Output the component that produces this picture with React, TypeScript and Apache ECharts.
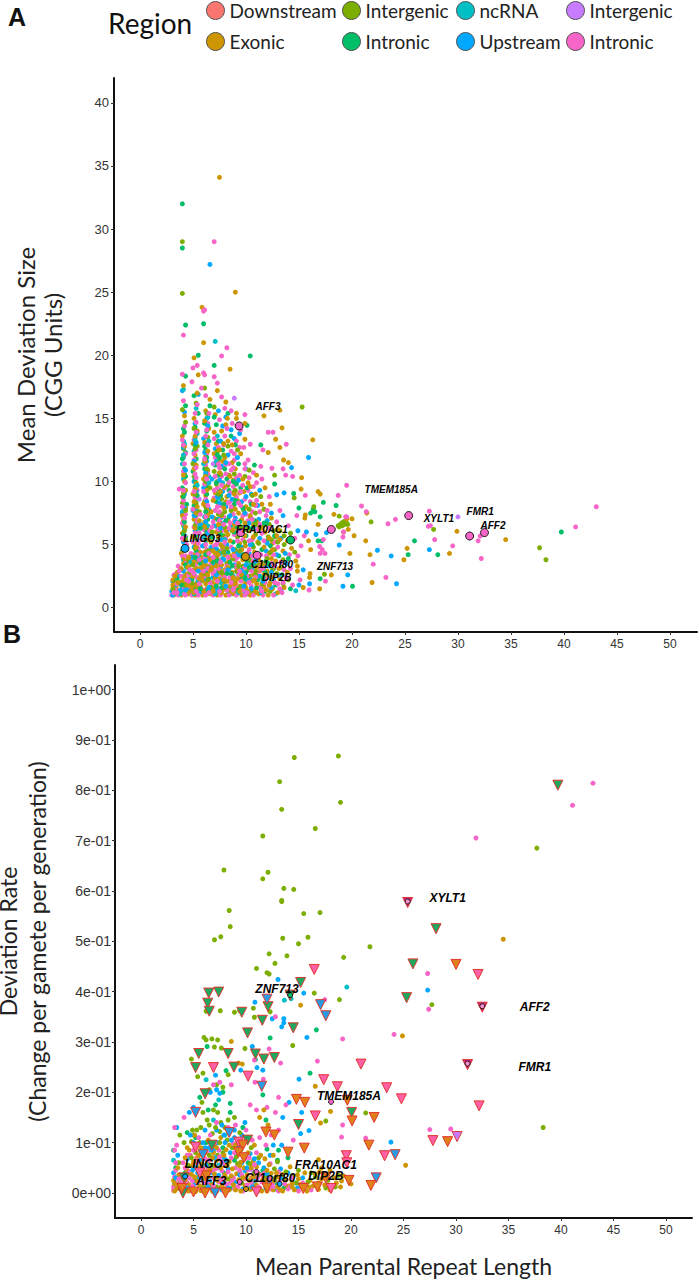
import React, { useEffect, useRef } from "react";
import * as echarts from "echarts";

const COLORS = { downstream: "#F8766D", exonic: "#CD9600", olive: "#7CAE00", green: "#00BE67", teal: "#00BFC4", blue: "#00A9FF", purple: "#C77CFF", pink: "#F765C8" };
const xTicks = [0, 5, 10, 15, 20, 25, 30, 35, 40, 45, 50];
const yTicksA = [0, 5, 10, 15, 20, 25, 30, 35, 40];
const yTicksB = [0, 0.1, 0.2, 0.3, 0.4, 0.5, 0.6, 0.7, 0.8, 0.9, 1];
const yTickLabelsB = ["0e+00", "1e-01", "2e-01", "3e-01", "4e-01", "5e-01", "6e-01", "7e-01", "8e-01", "9e-01", "1e+00"];

// ---------- Panel A: mean deviation size ----------
const aDownstream = [[3.6,1.3],[5.6,2.4],[7.4,3.5],[9.1,1.8],[6.2,6.1],[11.3,2.9]];
const aExonic = [[7.5,34.1],[9,25],[5.85,23.8],[6,21],[5.1,19.8],[8.5,18.9],[5.5,18.45],[13.2,15.65],[11.7,15.2],[9.1,15.4],[8.25,15],[9.1,15],[9.9,14.6],[13.4,14.25],[16.3,13.3],[12.8,13.35],[9.9,13.35],[13.2,12.7],[12.1,12.3],[13.55,11.7],[14,11.5],[15.25,10.3],[15.2,9.4],[16.8,9.2],[17,9],[18.3,7.4],[15.6,7.35],[15.55,7.1],[20,7.05],[16.8,6.6],[19.2,6],[20.2,5.7],[19.65,6.2],[19.5,7.05],[19.8,4.3],[21.4,7.5],[21.3,5.3],[21.7,4.2],[21.9,2],[25.2,4.7],[24.9,3.8],[29.9,6.05],[29.2,4.3],[34.5,5.4],[18.05,2.6],[16.95,1.5],[15.4,1.6],[16.05,2.7],[16,2.4],[14.85,3.3],[14.85,2.9],[16.1,4.6],[15.9,5.3],
[3.2,1],[3.9,1],[4.6,1.1],[5.2,1],[5.9,1],[6.6,1.1],[7.3,1],[8.1,1],[8.8,1.1],[9.6,1],[10.4,1],[11.2,1.1],[12.1,1],[13,1.2],
[3.4,1.6],[4.2,1.5],[5,1.4],[5.7,1.7],[6.3,1.5],[7,1.6],[7.8,1.4],[8.5,1.7],[9.2,1.5],[10,1.6],[10.9,1.4],[11.7,1.7],[12.5,1.5],[13.6,1.6],
[3.1,2.2],[4,2.1],[4.7,2.3],[5.4,2],[6,2.2],[6.8,2],[7.5,2.3],[8.3,2.1],[9,2],[9.8,2.3],[10.6,2.1],[11.4,2.4],[12.3,2],[13.2,2.3],
[3.5,2.8],[4.3,2.7],[5.1,3],[5.8,2.7],[6.5,2.9],[7.2,2.7],[8,3],[8.7,2.8],[9.5,2.7],[10.2,3],[11,2.8],[12,2.9],[13.1,3.1],
[4.1,3.5],[4.8,3.4],[5.5,3.6],[6.2,3.4],[7,3.6],[7.7,3.4],[8.4,3.7],[9.3,3.5],[10.5,3.6],[11.6,3.5],[12.8,3.7],
[3.9,4.3],[5,4.2],[5.7,4.4],[6.4,4.1],[7.1,4.3],[8,4.2],[8.9,4.4],[9.95,4.9],[10.8,4.4],[12.2,4.3],[13.5,4.5],
[4.2,5],[5.2,5.1],[6,4.9],[6.7,5.2],[7.6,5],[8.5,5.3],[9.4,5.1],[11.1,5.2],[12.5,5.1],[13.9,5.3],
[4,5.9],[5.3,6],[6.2,5.8],[7.2,6],[8.1,6.1],[9,5.9],[10.3,6.1],[11.8,6],[13,6.2],
[4.1,6.9],[5.1,7],[6.1,6.8],[7,7.1],[8.3,6.9],[9.6,7],[11,6.8],[12.4,7.1],
[4.3,7.9],[5.4,8],[6.3,7.8],[7.4,8.1],[8.6,7.9],[10,8],[11.5,8.2],
[4,8.8],[5,9],[6.2,8.9],[7.1,9.1],[8.2,8.8],[9.4,9.1],[10.9,9],
[4.2,10],[5.3,9.9],[6,10.2],[7.3,10],[8.8,10.1],[10.2,9.9],
[5.1,11],[6.4,10.9],[7.6,11.1],[9,11],
[4.1,12],[5.2,12.1],[6.2,12],[7,12.2],[8,11.9],[9.5,12.2],
[5,13],[6.1,13.1],[7.2,13],[8.3,13.2],[4,13.6],[5.4,14],[6.5,14.2],[7.7,14],[4.2,15.2],[5.1,15],[6.2,15.6],[7.1,15.3],[6.6,16.5],[8.1,16.3],[5.4,17],[7.3,17.2],[4.1,17.6]];
const aOlive = [[4,29],[4,24.9],[15.3,15.9],[12.7,10.5],[14.55,8.7],[16.4,8],[18.8,7.25],[18.7,6.5],[18.9,6.6],[19,6.7],[19.1,6.5],[19.2,6.8],[19.3,6.6],[19.4,6.9],[19.5,6.7],[19.6,6.6],[18.8,6.4],[21.8,6.8],[27.7,6.2],[37.7,4.75],[38.3,3.8],[17.4,2.65],
[3.5,1.1],[4.8,1.3],[6.1,1.2],[7.6,1.2],[9,1.3],[10.7,1.2],[12.3,1.3],[4.4,2],[5.8,2.1],[7.1,2.4],[8.7,2.2],[10.3,2.5],[12,2.6],[14,2.2],
[3.8,3],[5.3,3.2],[6.6,3.3],[8.2,3.5],[9.7,3.3],[11.2,3.4],[13.4,3.2],[4.1,4],[5.6,4.4],[7.4,4.5],[9,4.6],[10.7,4.8],[12.7,4.6],[14.6,4.4],
[4.3,5.4],[5.1,5.6],[6.4,5.5],[7.9,5.7],[9.2,5.6],[10.9,5.8],[12.1,5.6],[13.2,6.1],[12.8,5.6],[13.6,5.7],[11.6,6.4],[12.2,6.6],[4.1,6.5],[6,6.5],[7.6,6.7],[9.3,6.6],[10.4,7.2],
[5.2,7.5],[6.4,7.4],[8,7.6],[9.8,7.7],[11.7,7.8],[4,8.3],[6.1,8.4],[7.7,8.6],[9.2,8.5],[10.6,8.9],[5.3,9.4],[6.6,9.5],[8.3,9.7],[4.2,10.6],[5.1,10.4],[7,10.8],[8.4,10.5],[6.2,11.6],[7.4,11.7],[4.1,12.6],[5.4,12.8],[6.4,13.5],[4,15.7],[5.3,16.2],[7,15.9],[6.1,17.4]];
const aGreen = [[4,32],[4,28.5],[6,22.5],[4.3,22.4],[5.5,20],[10.4,19.95],[7,19.2],[4.3,18.35],[10.1,14.45],[8.3,15.4],[11.4,12.9],[12.7,9.8],[14.5,9.05],[17.3,8.35],[18.5,8.1],[16.35,7.8],[15,7.9],[17,7.2],[16.5,7.6],[16.1,7.5],[25.9,5.3],[25.3,4.2],[28.1,4.2],[39.75,6],[20.05,1.7],[16.8,5.3],[17.15,5.3],[17,2.3],
[3.4,1.2],[4.5,1.1],[5.5,1.3],[6.9,1.1],[8.4,1.2],[10.2,1.1],[11.8,1.3],[14.2,1.5],[3.7,2],[5.2,2.5],[6.5,2.3],[7.9,2],[9.4,2.4],[11.1,2.2],[13.4,2.6],[4.4,3.2],[6,3.1],[7.5,3.1],[9.1,3.2],[10.8,3.4],[12.6,3.1],[4,4.5],[5.4,3.9],[6.9,4.7],[8.3,4.4],[9.7,4.2],[11.5,4.6],[13.1,4.1],
[4.3,5.6],[5.2,5.5],[6.2,5.3],[7.4,5.4],[8.8,5.2],[10,5.7],[12,5.3],[4.1,7.2],[5.3,6.7],[6.4,7],[7.8,6.3],[9.1,6.4],[10.6,6.3],[4.4,8.2],[5.1,8.1],[6.1,8.2],[7.2,8.4],[8.9,8.2],[4,9.5],[5.2,9.6],[6.3,9.6],[7.5,9.3],[9.5,9.5],[4.2,11],[5,10.8],[6.1,11],[7.1,11.3],[8.2,10.2],[4.3,12.3],[5.3,11.8],[6.2,12.5],[7.8,12.5],[5.2,13.5],[6.3,14],[7.2,14.5],[4.1,14.2],[8.6,13.6],[5.5,15.4],[4.3,16],[6.6,16],[5.1,16.8]];
const aTeal = [[7.1,21.1],[4.1,17.3],[5.3,15.8],[6.4,15.1],[14.7,1.35],[3.3,1.1],[4.9,1.2],[6.7,1.3],[8.6,1.1],[10.6,1.3],[12.8,1.1],[4.2,2.4],[5.9,2.6],[7.3,2.7],[9.2,2.8],[11.5,3],[4.1,3.8],[6.3,4],[7.8,3.9],[9.5,4.1],[4.3,5.2],[5.3,6.2],[6.1,6.6],[7.3,6.4],[8.6,6.5],[4,7.6],[5.2,8.4],[6.2,9.2],[7.5,7.5],[4.1,10.2],[6.5,10.4],[7.8,9.9],[4.2,13],[5.1,12.4],[6.4,12.9],[5.4,13.8],[4,11.4],[7.3,13.6]];
const aBlue = [[6.6,27.2],[15.9,11.9],[14.3,11.1],[13.6,9.1],[12.9,8.95],[17.6,5.95],[18.8,4.97],[19.6,2.6],[19.15,1.7],[16,1.9],[15.4,3],[22.4,4.55],[23.7,4.1],[24.2,1.9],[27.3,4.6],
[3,1.3],[3.1,2.1],[4.5,1.5],[5.6,1.1],[7,1.2],[8.3,1.6],[9.9,1.2],[11.4,1.5],[13.3,1.4],[15,1.8],[3.7,2.5],[5.3,1.9],[6.9,2.4],[8.8,2.5],[10.4,2.3],[12.2,2.4],[4.6,3.1],[6.1,2.9],[7.6,3.2],[9.6,3],[11.7,3.2],[13.8,3.5],[4.4,4],[5.9,3.8],[7.3,4.1],[8.7,4],[10.3,4.3],[11.9,4.5],[5.1,4.8],[6.7,4.8],[8.2,5],[9.6,4.8],[11.3,5.5],[13.3,5.5],[14.9,6.1],[15.7,6],[16.6,5.8],[4.2,6.2],[5.5,6.3],[7,6.5],[8.3,6.2],[9.9,6.5],[11.2,7],[12.4,7.5],[13.5,7.3],[4,7.4],[5.3,7.7],[6.5,7.8],[8.1,8],[9.6,8.4],[10.5,9],[11.3,9.3],[4.2,9],[6,9.5],[7.8,9.2],[5.1,10],[6.8,10.2],[9,9.9],[10,11],[4.1,11.9],[5.2,11.3],[6.3,11.6],[8.3,12.1],[4.1,13.2],[6,13.4],[7.1,12.6],[8.9,13.4],[9.4,13.8],[8.6,14.1],[4.2,15.5],[5.2,14.6],[6.3,15],[7.4,15.6],[8.1,15.1],[5.5,16.9],[4,17.2]];
const aPurple = [[30,7.2],[8.9,16.6],[6.9,11.4],[5.6,8.6],[7.9,4.9]];
const aPink = [[7,29],[6.1,23.6],[6,23.5],[4.1,21.6],[8.2,20.6],[7.7,19.95],[5.4,19.2],[5,19],[4,18.5],[6,18.6],[6.1,18.45],[7.3,17.8],[9.9,15.3],[12.1,13.9],[12.55,13.9],[10.4,12.95],[13.8,12.95],[11.6,12.5],[12.45,11.05],[13.5,11],[13.75,10.5],[14.4,10.4],[15.6,8.9],[18.7,8.9],[19.5,9.7],[20.9,8.06],[21.35,7.6],[19.4,7.2],[19.5,7.2],[23.4,6.65],[24.1,7],[27.3,7.65],[27.2,6.45],[27.4,6.5],[32.1,5.68],[31.9,5.3],[27.8,5.4],[29.5,4.9],[32.2,3.9],[41.1,6.4],[43.05,8],[22,3.45],[23.2,2.4],[19.15,5.6],[19.2,6],[17.3,5.4],[16.95,4.85],[17.45,4.3],[17,4.3],[17.2,4.6],[17.5,2.1],[15.95,1.4],[15.1,2.2],
[3,1],[3.6,1],[4.3,1],[4.9,1],[5.5,1],[6.2,1],[6.9,1],[7.6,1],[8.4,1],[9.1,1],[9.9,1],[10.7,1],[11.6,1],[12.6,1],
[3.3,1.4],[4,1.6],[4.7,1.7],[5.3,1.6],[6,1.4],[6.7,1.7],[7.4,1.5],[8.2,1.4],[8.9,1.7],[9.7,1.4],[10.5,1.7],[11.3,1.6],[12.2,1.7],[13.2,1.5],[14.4,1.8],
[3.2,2.6],[3.9,2.5],[4.6,2.6],[5.3,2.4],[6.1,2.5],[6.9,2.7],[7.7,2.6],[8.5,2.4],[9.3,2.6],[10.1,2.5],[11,2.7],[11.9,2.3],[12.8,2.6],[13.8,2.4],[3.6,3.3],[4.4,3.6],[5.2,3.4],[5.9,3.3],[6.7,3.5],[7.4,3.8],[8.2,3.3],[9,3.8],[9.9,3.2],[10.7,3.7],[11.3,3.2],[12.4,3.5],[13.6,3],
[4,4.1],[4.8,4.3],[5.5,4.7],[6.3,4.6],[7,4.9],[7.8,4.6],[8.6,4.8],[9.4,4.5],[10.3,4.6],[11.9,4.1],[13,4.8],[14.1,4.2],[15.2,4.9],
[4.2,5.7],[5,5.2],[5.8,5.4],[6.5,5.7],[7.3,5.2],[8.1,5.5],[8.9,5.8],[9.7,5.4],[10.6,5.4],[11.5,5.9],[12.7,5.2],[14.6,5.5],[15.5,5.7],
[4,6.7],[5.1,6.4],[6,6.2],[6.9,6.8],[7.7,6.1],[8.5,6.7],[9.3,6.1],[10.2,6.9],[11.1,6.2],[12.9,6.8],[14,6.5],[4.3,7.4],[5.3,7.2],[6.3,7.4],[7.1,7.7],[7.9,7.2],[8.8,7.4],[9.7,7.3],[10.6,7.6],[11.9,7.3],[13.2,7.7],[14.8,7.3],
[4.1,8.5],[5.2,8.7],[6.2,8.6],[7,8.7],[7.6,8.1],[8.5,8.4],[9.1,8.8],[9.9,8.6],[11,8.5],[12.2,8.8],[3.7,9.4],[4.3,9.9],[5.4,9.3],[6.1,9.8],[7.3,9.5],[8,9.5],[8.8,9.6],[9.7,9.7],[10.7,9.6],[11.5,10.2],[4.1,10.8],[5.2,10.6],[6.4,10.6],[7.7,10.4],[8.6,10.9],[9.4,10.5],[10.7,10.7],[11.4,11.2],[5.1,11.7],[6.2,11.3],[7.1,11.9],[8,11.3],[8.9,11.7],[9.9,11.4],[4.3,12.2],[5.3,12.5],[6.3,12.2],[7.4,12.7],[8.6,12.4],[4,13.3],[5.1,13.3],[6.2,13.6],[7,13.4],[8,13.6],[9.1,13.2],[4.2,14.4],[5.3,14.7],[6.4,14.6],[7.5,14.9],[8.7,14.6],[4.1,16.4],[5.4,16.1],[6.2,16.8],[7.7,16.7],[4.9,17.9],[5.8,17.4],[7,18.3]];
// second and third overlapping layers of the dense cloud
const aGreen2 = [[3.2,1.3],[4.1,1.2],[5,1.6],[6.4,1.4],[7.7,1.6],[9.3,1.4],[11,1.6],[12.8,1.8],[3.5,2.3],[4.9,2.2],[6.2,2.8],[7.4,2.9],[8.6,2.7],[10,2.8],[11.8,2.8],[4.3,3.4],[5.7,3.5],[6.9,3.6],[8.5,3.6],[10.1,3.7],[11.9,3.7],[4.2,4.6],[5.3,4.5],[6.5,4.5],[7.8,4.8],[9.3,4.9],[10.6,5],[12.3,4.9],[4.1,5.8],[5.3,5.8],[6.3,6],[7.6,5.8],[8.9,6],[10.2,6.3],[11.7,6.7],[4.2,6.8],[5.2,7.3],[6.2,7.6],[7.3,7],[8.4,7.2],[9.7,7.9],[4.1,8.8],[5.4,8.9],[6.3,9],[7.6,8.9],[8.4,9.3],[4.3,10.4],[5.2,10.2],[6.2,10.5],[7.4,10.5],[4,11.8],[5.1,11.5],[6.3,11.9],[7.5,11.9],[5.2,12.9],[6.1,12.8],[7.4,13.2],[4.2,13.9],[5.2,14.3],[6.1,14.6],[7,15.1]];
const aOlive2 = [[3.1,1.5],[4.2,1.8],[5.4,1.5],[6.7,1.6],[8,1.6],[9.5,1.7],[11.5,1.9],[13.5,1.9],[3.3,2],[4.7,2.8],[6.1,2.7],[7.6,2.8],[9.1,2.9],[10.9,2.9],[12.5,3],[4.6,3.7],[6,3.7],[7.2,3.9],[8.8,3.9],[10.3,3.9],[12,3.9],[13.5,3.8],[4.3,4.8],[5.2,4.7],[6.7,4.5],[8.2,4.7],[9.9,5.2],[11.2,5.1],[12.4,5.4],[13.6,5],[4.2,6.1],[5.2,6.5],[6.3,6.3],[7.5,6.1],[8.7,6.1],[10,6.2],[12.6,6.1],[4.3,7.7],[5.3,8.3],[6.2,8],[7.4,7.4],[8.6,7.7],[10.9,7.5],[4.1,9.1],[5.2,9],[6.2,10],[7.2,9.8],[9,9.3],[5,11.4],[6.3,11],[7.6,10.6],[5.2,12.6],[6.3,13],[7.3,12.4],[8.3,12.8],[4.3,14.7],[5.1,14.2],[6.3,15.4]];
const aBlue2 = [[3.1,1],[3.8,1.4],[5.8,1.3],[7.3,1.4],[8.7,1.4],[10.5,1.5],[12.4,1.6],[3.3,1.8],[4.6,2.2],[6.3,2.2],[7.8,2.2],[9.8,2.7],[11.3,2.5],[13.1,2.6],[4.1,2.9],[5.4,3],[7,3.3],[8.9,3.4],[10.6,3.1],[12.2,3.3],[5.2,3.8],[6.7,3.9],[8,4.4],[9.9,3.9],[11.1,4.1],[12.9,4.2],[4.1,5.2],[5.9,4.9],[7.2,4.7],[8.8,4.6],[10.4,5],[12,5.1],[5.2,6.1],[6.4,5.9],[7.7,5.4],[9.5,5.8],[10.8,6.5],[4.2,7.9],[5.1,7.3],[6.2,6.8],[7.6,7.1],[9,7.1],[5.3,9.2],[6.3,8.4],[7.5,8.3],[8.7,8.6],[4.3,10.9],[5.1,11.6],[6.2,10.7],[7.7,11.2],[4.1,12.7],[6.1,12.3],[7.6,13.2],[5.3,13.1],[6.4,14.4],[7.8,14.4]];
const aTeal2 = [[3.8,1.1],[5.1,1.1],[7.1,1.1],[9.3,1.2],[11.4,1.2],[3.6,1.9],[5.5,2.1],[7.6,2],[10,2.2],[12.6,2.2],[4.8,3.6],[6.4,3.1],[8.4,3.1],[10.4,3.4],[5.6,4.1],[7.6,4.3],[9.2,4.3],[4.1,5.5],[6,5.6],[8,5.4],[4.2,6.4],[6.4,6.5],[7.9,6.7],[5,7.7],[6.1,7.2],[7.4,8.7],[4.3,9.3],[5.4,9.7],[6.5,9.9],[6,11.4],[7.2,11.6],[4.1,12.1],[5.2,13.3],[6.5,13.2]];
const aExonic2 = [[3.4,1.2],[4.4,1.3],[5.1,1.2],[6,1.3],[6.9,1.3],[7.7,1.2],[8.6,1.3],[9.4,1.3],[10.2,1.3],[11,1.2],[11.9,1.4],[3.1,1.8],[3.8,1.9],[4.5,1.8],[5.3,1.8],[6.2,1.9],[7.2,1.9],[8,1.8],[8.9,1.9],[9.9,1.9],[11,1.9],[12.2,1.8],[3.3,2.5],[4.2,2.4],[5,2.5],[5.6,2.3],[6.4,2.6],[7.1,2.3],[7.9,2.6],[8.8,2.4],[9.6,2.6],[10.7,2.6],[11.7,2.6],[3.9,3.1],[4.5,3.2],[5.4,3.1],[6,3.3],[6.8,3.2],[7.5,3],[8.3,3.2],[9.2,3.1],[10.4,3.2],[11.5,3.4],[4.2,3.9],[5.1,3.7],[5.9,4],[6.6,3.8],[7.4,4.2],[8.6,4.1],[10.1,4],[11.2,3.8],[12.4,3.9],[4.4,4.6],[5.3,4.8],[6.1,4.4],[6.9,4.5],[7.8,4.8],[9.6,4.6],[11.7,4.8],[4.1,5.4],[5,5.6],[6.5,5.4],[7.4,5.6],[8.3,5.8],[9.9,5.7],[10.7,5.6],[12.2,5.5],[4.3,6.4],[5.2,6.3],[6.1,6.4],[7.5,6.5],[8.9,6.6],[10.7,6.6],[4,7.3],[5.3,7.5],[6.4,7.3],[7.7,7.3],[9.3,7.5],[10.4,7.3],[5.1,8.4],[6,8.2],[6.9,8.5],[8.1,8.4],[4.3,9.3],[5.2,9.4],[6.3,9.3],[7.9,9.6],[9.8,9.2],[4.1,10.5],[6.2,10.4],[7.5,10.7],[5.3,11.3],[6.1,11.6],[7.8,11.6],[8.7,11.5],[4.2,12.8],[6.4,12.4],[7.5,12.5],[5.2,13.6],[7,13.9],[6.1,14.8],[8.1,14.5]];
const aPink2 = [[3.2,1.2],[4.2,1.1],[5.3,1.3],[6.5,1.2],[7.5,1.3],[8.8,1.4],[10.1,1.2],[11.5,1.3],[13.4,1.2],[3.5,1.9],[4.4,2.2],[5.6,1.9],[6.6,2],[7.3,2.1],[8.6,2],[9.5,2.1],[10.3,2],[11.8,2],[13,1.9],[3.7,2.9],[4.9,2.9],[5.7,3],[6.4,3.1],[7.4,3.1],[8.1,2.9],[9,3.3],[10.5,2.9],[11.6,3.1],[12.7,3.3],[4.3,4.1],[5.4,4.2],[6.1,3.9],[6.9,4],[8.3,4],[9.2,4],[10.6,4.1],[12.6,4.2],[4.4,5],[5.5,5.1],[6.2,5],[7.2,5],[8,5.2],[9.2,5.3],[10.3,5.3],[11.7,5.3],[4,5.5],[5.2,5.9],[6.6,6.1],[7.4,6.2],[8.4,6.3],[9.6,6.3],[11.3,6.6],[12.2,6.3],[4.2,7.1],[5.4,6.8],[6.2,7.2],[7.5,6.9],[8.9,6.9],[10,7.4],[11.3,7.6],[4,8],[5,7.8],[6.4,8.1],[7.3,8],[8.3,8.3],[9.5,8.1],[10.4,8.4],[4.1,9.3],[5.1,9.2],[6,9.2],[7,9.3],[8.5,9.1],[10.2,9.3],[5.3,10.3],[6.3,10.2],[7.1,10.4],[8.1,10.6],[9.1,10.3],[10.3,10.3],[4.2,11.4],[5.3,11.1],[6.1,11.8],[7.4,11.4],[8.4,11.4],[4.1,12.9],[5.1,12.2],[6.4,12.9],[7.9,12.9],[9.4,12.7],[5.3,13.9],[6.3,14.1],[8.2,14.2],[9.5,14.1],[5.2,15.4],[6.5,15.4],[8,15.8],[8.6,15.6]];
const aExonic3 = [[7.4,6.6],[8.8,6.2],[9.9,6.7],[11.4,6.3],[12.9,5.7],[7.9,7.9],[9,7.8],[10.7,8.2],[12.3,8.2],[7.6,9.2],[8.9,9],[10.4,9.6],[11.8,9.5],[8.5,10.4],[9.7,10.2],[11,10.5],[8.7,12.9],[7.9,13],[5.6,6.9],[6.7,7.6],[3.6,2],[4.9,1.6],[5.8,2.5],[6.7,3],[7.9,2.2],[9.2,2.3],[10.8,2.2],[12.4,2.4],[4.6,4],[5.8,3.2],[7.2,3.3],[9.7,3.8],[11,3.2],[12.5,4.6],[13.2,5.4],[14.3,4.7],[14.7,3.7],[13.9,2.8]];
const aPink3 = [[7.9,6.6],[9.2,6.7],[10.6,7],[12,7.7],[7.5,7.6],[8.6,8],[9.3,8.3],[10.9,8.1],[7.7,9.7],[8.4,9.9],[9.5,9.2],[11,9.9],[9.9,11],[10.2,11.7],[7.5,11.1],[8.8,11.1],[9.8,12.7],[8.9,12.2],[5.6,5.9],[5.7,7.4],[6.8,6.4],[3.5,1.2],[4.6,2.1],[5.1,2.7],[6,2.9],[7,2.9],[8,2.4],[9.4,2.9],[10.9,2.4],[12.7,2],[13.5,2],[4.7,3],[5.6,3.8],[6.5,4.3],[7.6,3.6],[8.9,4.1],[10.1,4.3],[11.4,4.2],[13.3,3.6],[14.2,3.1],[14.9,4.1]];
const aGreen3 = [[8.1,6.9],[9.4,6.8],[10.8,6.9],[11.9,6.7],[7.9,8.2],[9,8.5],[10.5,8.2],[7.2,9.9],[9.1,9.8],[10.1,9.5],[8,11],[9.3,11.4],[8.8,10],[10.8,11.3],[7.3,12.1],[9,12.9],[5.7,6.3],[6.8,5.6],[3.9,1.8],[5.7,1.5],[7.2,1.7],[8.2,2.7],[9.9,2.4],[11.6,2.4],[5.2,4],[6.2,4.2],[7.3,3.7],[8.7,3.3],[10.3,3.2],[12.1,3.5],[14,3.9],[12.7,5.7]];
const aOlive3 = [[8,6.4],[9.5,6.4],[10.9,6.6],[7.7,7.4],[8.8,7.9],[10.3,7.8],[11.4,8.8],[7.4,9],[8.9,9.2],[9.9,10.4],[10.3,10.9],[8.9,10.6],[7.9,12.1],[9.2,12.5],[5.6,7.6],[6.8,6],[4.9,1.9],[6.4,2.2],[7.7,2.8],[9.3,3.3],[10.9,2.6],[12.9,2.7],[5,3.4],[6.4,4.5],[7.9,4.4],[9.4,4.5],[10.9,4.3],[12.3,4.4],[14.2,5.9],[13,5.2]];
const aBlue3 = [[7.6,6.3],[9,6.8],[10.3,6.7],[12,6.9],[8.5,7.3],[9.9,7.5],[11.1,8.1],[7.3,8.8],[8.4,8.9],[10,8.8],[7.5,10.1],[9.3,10.1],[8.1,11.5],[9.2,11.9],[5.7,6.6],[6.8,7.2],[4.3,1.4],[6.5,1.6],[8.1,1.7],[9.8,1.7],[11.6,2.1],[5.5,2.9],[7.2,2.6],[8.3,3],[10,3.4],[12.4,2.8],[4.9,4],[6.2,3.7],[7.9,3.8],[9.3,4.2],[10.9,3.7],[13.7,4.3]];
const aHighlights = [
  { value: [9.35, 14.4], itemStyle: { color: COLORS.pink } },
  { value: [25.35, 7.3], itemStyle: { color: COLORS.pink } },
  { value: [31.1, 5.68], itemStyle: { color: COLORS.pink } },
  { value: [32.5, 5.95], itemStyle: { color: COLORS.pink } },
  { value: [18.05, 6.2], itemStyle: { color: COLORS.pink } },
  { value: [9.5, 5.95], itemStyle: { color: COLORS.pink } },
  { value: [11.05, 4.15], itemStyle: { color: COLORS.pink } },
  { value: [9.95, 4.05], itemStyle: { color: COLORS.exonic } },
  { value: [14.2, 5.36], itemStyle: { color: COLORS.green } },
  { value: [4.25, 4.7], itemStyle: { color: COLORS.blue } },
];
const aLabels = [["AFF3",12.08,15.98],["TMEM185A",23.7,9.33],["XYLT1",28.2,7.04],["FMR1",32.1,7.6],["AFF2",33.3,6.55],["FRA10AC1",11.5,6.16],["LINGO3",5.85,5.52],["C11orf80",12.45,3.45],["ZNF713",18.4,3.3],["DIP2B",12.9,2.4]];

// ---------- Panel B: deviation rate ----------
const bDownstream = [[4.4,0.02],[6.3,0.045],[8.2,0.012],[10.5,0.03],[5.3,0.07]];
const bExonic = [[34.5,0.504],[24.9,0.312],[15.2,0.373],[8.6,0.301],[9.3,0.258],[9.65,0.256],[16.6,0.212],[18.05,0.162],[17.1,0.139],[25.2,0.055],
[3.2,0.004],[4.1,0.006],[5.2,0.003],[6.3,0.007],[7.2,0.004],[8.4,0.006],[9.5,0.004],[10.4,0.007],[11.5,0.004],[12.6,0.006],[13.5,0.004],[14.6,0.006],[15.8,0.004],[16.9,0.007],[18,0.006],[19,0.012],
[3.5,0.015],[4.6,0.016],[5.6,0.014],[6.7,0.016],[7.7,0.014],[8.8,0.016],[9.9,0.015],[11,0.016],[12,0.013],[13.1,0.016],[14.1,0.014],[15.2,0.017],[16.4,0.014],[17.5,0.016],[18.6,0.02],[20,0.018],
[3.1,0.025],[4.2,0.026],[5.3,0.024],[6.1,0.027],[7.3,0.025],[8.2,0.028],[9.3,0.026],[10.3,0.025],[11.6,0.027],[12.7,0.024],[13.8,0.026],[15,0.028],[16.1,0.025],[17.2,0.028],[18.4,0.03],[19.3,0.034],
[3.6,0.036],[4.8,0.037],[5.9,0.035],[7,0.038],[8,0.036],[9.1,0.038],[10.1,0.036],[11.3,0.037],[12.4,0.039],[13.5,0.037],[15.6,0.04],[17,0.042],[18,0.045],[17.2,0.05],[16.9,0.066],
[4.3,0.047],[5.5,0.05],[6.6,0.047],[7.6,0.05],[8.7,0.048],[9.8,0.05],[11,0.052],[12.2,0.056],[14.2,0.052],
[5,0.062],[6,0.068],[7.2,0.065],[8.4,0.062],[9.5,0.061],[10.7,0.064],[11.8,0.068],[4.6,0.085],[5.7,0.09],[6.9,0.08],[8.1,0.086],[10.2,0.08],[11.4,0.075],[5.1,0.115],[6.4,0.105],[7.6,0.11],[9,0.095],[10.8,0.095],[12.6,0.075],[11.3,0.15],[11.7,0.165],[12.1,0.135]];
const bOlive = [[14.6,0.865],[18.8,0.868],[13.2,0.817],[13.4,0.762],[19,0.776],[16.6,0.724],[11.6,0.709],[37.7,0.685],[7.9,0.6415],[12.1,0.637],[11.6,0.624],[13.6,0.605],[14.55,0.603],[13.4,0.581],[13.4,0.579],[8.4,0.561],[8.5,0.529],[7.6,0.509],[7,0.503],[15.5,0.555],[17.05,0.557],[13.5,0.506],[15,0.495],[15.9,0.508],[12.2,0.475],[13.9,0.471],[19.3,0.468],[21.8,0.489],[12.76,0.456],[11,0.446],[12,0.4376],[12.2,0.435],[18.9,0.384],[16.5,0.397],[6.2,0.361],[7.55,0.362],[8.9,0.359],[9.4,0.362],[10.7,0.367],[12.3,0.36],[10.8,0.349],[14.45,0.293],[6,0.309],[6.2,0.304],[6.75,0.306],[7.3,0.304],[6.99,0.29],[7.65,0.288],[9.9,0.287],[4.8,0.266],[27.7,0.374],[38.3,0.13],[17.6,0.143],[21.4,0.159],
[5.9,0.238],[8.3,0.235],[5.4,0.231],[7.2,0.215],[6.5,0.205],[7.8,0.21],[5.8,0.18],[6.9,0.165],[7.3,0.16],[7.6,0.14],[8,0.13],[4.9,0.125],[5,0.115],[5.7,0.13],[6.5,0.135],[6.8,0.118],[7.5,0.122],[8.2,0.105],[4.8,0.102],[5.6,0.1],[7,0.095],[8.7,0.09],[9.5,0.085],[10.5,0.09],[3.4,0.012],[4.7,0.01],[6,0.012],[7.6,0.011],[9.1,0.01],[10.7,0.012],[12.3,0.011],[13.9,0.012],[15.4,0.012],[17.6,0.01],[18.5,0.012],[3.9,0.03],[5.5,0.032],[7.5,0.03],[9.6,0.032],[11.8,0.033],[14.4,0.034],[16.6,0.032],[4.5,0.055],[6.4,0.058],[8.1,0.058],[10.4,0.058],[12.7,0.048],[5.2,0.08],[7.3,0.075],[9.1,0.072],[11.2,0.07],[13,0.062]];
const bGreen = [[16.7,0.324],[12.3,0.308],[6.3,0.291],[16.1,0.238],[8.1,0.243],[7.8,0.2],[5.6,0.19],[6.4,0.165],[7.1,0.175],[8.5,0.178],[8.5,0.16],[10.9,0.265],[5.2,0.11],[6.2,0.1],[7.8,0.09],[3.1,0.085],[4.4,0.12],[11.6,0.195],[11.9,0.145],[9.7,0.13],[10.2,0.06],[13,0.065],[14,0.07],[3.6,0.01],[4.9,0.008],[6.8,0.01],[8.5,0.009],[10.2,0.01],[11.9,0.009],[13.6,0.01],[4.2,0.04],[5.8,0.038],[7.9,0.04],[9.4,0.042],[11.6,0.045],[3.3,0.05],[5.1,0.06],[6.8,0.055],[8.9,0.065],[12,0.087],[13.1,0.085]];
const bTeal = [[19.6,0.409],[13.65,0.383],[14.3,0.386],[6.2,0.225],[7.4,0.185],[6.9,0.145],[8,0.115],[5.4,0.07],[7.4,0.055],[9.1,0.075],[3.1,0.065],[4.5,0.035],[6.6,0.02],[8.7,0.03],[10.8,0.02],[12.9,0.02],[14.7,0.02]];
const bBlue = [[13.05,0.424],[10.85,0.379],[15.5,0.397],[12.5,0.346],[13.6,0.346],[13.6,0.338],[13.4,0.33],[15.8,0.309],[10.6,0.291],[9.5,0.244],[11.05,0.249],[11.6,0.244],[7.1,0.234],[15.05,0.226],[16,0.124],[15.2,0.118],[23.8,0.101],[27.3,0.403],[7.2,0.205],[7.5,0.198],[6.6,0.2],[3.4,0.13],[4.6,0.16],[5,0.17],[14.1,0.18],[13.5,0.15],[15.3,0.16],[7.2,0.125],[8.9,0.11],[8,0.1],[9.6,0.115],[6.1,0.09],[6.9,0.085],[10.4,0.078],[11.2,0.06],[12.3,0.075],[13.4,0.095],[12.6,0.095],
[3.1,0.04],[3.2,0.02],[4,0.018],[5.1,0.018],[6.5,0.025],[7.8,0.02],[9,0.022],[10.9,0.028],[12.2,0.022],[13.4,0.03],[15.4,0.03],[14.9,0.01],[4.9,0.045],[6.7,0.04],[8.3,0.048],[9.9,0.044],[11.7,0.05],[13.3,0.048],[5.7,0.065],[7.9,0.07],[9.6,0.06],[3.3,0.008],[5.9,0.006],[7.7,0.006],[9.7,0.008],[11.3,0.008],[13,0.006]];
const bPurple = [[7.4,0.05],[10.6,0.045]];
const bPink = [[43.05,0.814],[41.1,0.77],[31.9,0.705],[27.3,0.436],[27.4,0.365],[12.8,0.35],[17.5,0.384],[19.2,0.306],[24.1,0.315],[12.2,0.286],[10.8,0.264],[13.3,0.258],[16.8,0.262],[11.65,0.226],[10.85,0.22],[19.2,0.135],[19.1,0.111],[21.4,0.109],[27.5,0.126],[29.5,0.127],[6.9,0.215],[7.5,0.22],[8.6,0.215],[10.4,0.175],[11,0.165],[12,0.17],[12.8,0.16],[13.1,0.19],[13.8,0.175],[9,0.135],[10,0.125],[11.3,0.11],[12.4,0.115],[13.1,0.125],[3.2,0.13],[4.1,0.15],[14.5,0.105],
[3.1,0.005],[3.9,0.008],[4.7,0.005],[5.5,0.008],[6.2,0.004],[7.1,0.008],[7.9,0.004],[8.9,0.008],[9.7,0.004],[10.5,0.008],[11.4,0.005],[12.3,0.008],[13.1,0.004],[14,0.008],[15,0.004],[16.2,0.006],[3.3,0.02],[4.3,0.022],[5.4,0.02],[6.4,0.018],[7.4,0.022],[8.5,0.02],[9.4,0.018],[10.5,0.02],[11.5,0.022],[12.5,0.018],[13.7,0.018],[15.4,0.02],[3.2,0.032],[4.6,0.03],[5.7,0.028],[6.9,0.03],[7.9,0.032],[8.8,0.03],[9.9,0.028],[11.1,0.03],[12.2,0.028],[14.4,0.03],[3.3,0.045],[4.5,0.044],[5.6,0.042],[6.8,0.044],[7.7,0.044],[9,0.05],[10.2,0.046],[11.8,0.04],[13.1,0.042],[4,0.06],[5.3,0.06],[6.5,0.065],[7.7,0.062],[8.6,0.07],[9.9,0.068],[11,0.08],[12.3,0.058],[4.7,0.075],[6.3,0.08],[7.4,0.085],[8.8,0.098],[10.6,0.105],[11.9,0.095],[3.4,0.095],[5.5,0.11],[6.6,0.115],[8.3,0.13],[7.2,0.14]];
const bBlue2 = [[3.3,0.03],[4.4,0.01],[5.6,0.03],[6.4,0.012],[7.4,0.035],[8.3,0.01],[9.4,0.036],[10.6,0.012],[12,0.038],[14,0.04],[5.4,0.04],[6.2,0.055],[7,0.07],[8.5,0.08],[9.3,0.09],[10.8,0.068],[4.4,0.068],[5.9,0.1],[7.3,0.1],[8.6,0.105],[9.5,0.1],[4.7,0.115],[6.1,0.125],[7.7,0.135],[8.9,0.125],[9.9,0.14],[3.5,0.075],[5.2,0.05],[6.7,0.085],[8.1,0.065],[10.1,0.05],[5,0.1],[6.5,0.09],[7.9,0.115]];
const bOlive2 = [[3.7,0.02],[5,0.025],[6.1,0.04],[7.2,0.012],[8.4,0.028],[9.6,0.02],[10.8,0.04],[12.8,0.03],[15.9,0.022],[17.8,0.025],[3.6,0.06],[4.8,0.07],[6.5,0.075],[7.8,0.08],[9.2,0.058],[10.1,0.102],[4.1,0.1],[5.3,0.125],[6.3,0.145],[7.1,0.13],[8.3,0.145],[8.9,0.15],[3.7,0.115],[5.9,0.16],[13.8,0.042],[15,0.045],[16.2,0.04],[18.8,0.035],[14.8,0.02],[5.9,0.075],[7.5,0.1],[9.4,0.12]];
const bExonic2 = [[3.4,0.008],[4.5,0.004],[5.7,0.005],[6.8,0.004],[7.9,0.008],[9,0.006],[10,0.008],[11,0.006],[12,0.004],[13.3,0.006],[14.4,0.012],[16,0.012],[3.2,0.018],[4.1,0.035],[5.1,0.032],[6.4,0.032],[7.1,0.03],[8.6,0.034],[9.7,0.03],[10.7,0.032],[11.9,0.024],[13,0.032],[14.4,0.02],[3.5,0.05],[4.9,0.055],[5.8,0.058],[7,0.054],[8.2,0.054],[9.4,0.054],[10.5,0.05],[12,0.045],[4.2,0.07],[5.5,0.075],[6.8,0.07],[7.9,0.075],[9.8,0.075],[6.1,0.08],[4.4,0.09],[7.2,0.09],[8.4,0.095],[16.9,0.02],[17.9,0.015],[19.1,0.024],[15.5,0.01],[13,0.012],[16.6,0.038],[14.9,0.036],[12.9,0.04]];
const bPink2 = [[3.1,0.012],[3.8,0.02],[4.9,0.014],[6,0.02],[6.9,0.014],[8.1,0.018],[9.2,0.012],[10.1,0.016],[11.2,0.012],[12.6,0.012],[14.2,0.012],[3.6,0.028],[4.9,0.024],[6.2,0.034],[7.6,0.026],[8.7,0.026],[9.6,0.036],[11.5,0.036],[13.2,0.022],[3.3,0.06],[4.2,0.05],[5.9,0.05],[7.1,0.048],[8.3,0.042],[9.4,0.045],[10.8,0.056],[5,0.085],[7,0.1],[8,0.055],[9.2,0.085],[3.2,0.085],[4.4,0.075],[6.1,0.068],[7.5,0.072],[8.9,0.08],[10.3,0.07]];
const bTriGreen = [[39.7,0.81],[28.1,0.525],[25.9,0.455],[25.3,0.388],[15.2,0.418],[6.45,0.397],[7.4,0.399],[6.35,0.377],[6.5,0.361],[9.6,0.359],[12.1,0.37],[14.2,0.393],[11.55,0.343],[14.5,0.328],[10.15,0.318],[5.5,0.277],[8.3,0.277],[10.9,0.276],[11.7,0.266],[12.7,0.269],[5.2,0.249],[8.85,0.25],[6.1,0.197],[20.06,0.16],[15,0.136],[10.15,0.105],[6.75,0.095],[4,0],[4.1,0.03]];
const bTriExonic = [[30,0.454],[14.8,0.186],[15.6,0.18],[19.65,0.184],[22.2,0.15],[20.1,0.143],[11.9,0.121],[12.7,0.115],[21.7,0.095],[15.55,0.089],[14,0.081],[21.9,0.015],[15.45,0.009],[12,0.01],[29.2,0.102],[8.05,0],[6.1,0],[9.7,0.095],[9.3,0.081],[9.8,0.07],[3.9,0.009],[5,0.002],[6.25,0.034],[17.6,0.03],[19.8,0.025],[16.8,0.012]];
const bTriBlue = [[12,0.385],[17.1,0.374],[17.6,0.352],[11.5,0.212],[5.2,0.16],[8.4,0.12],[5.9,0.076],[24.2,0.076],[22.4,0.03],[7.05,0]];
const bTriPurple = [[30.1,0.112]];
const bTriPink = [[16.5,0.444],[32.1,0.434],[6.9,0.249],[20.95,0.256],[10.2,0.232],[17.4,0.225],[18.7,0.211],[23.4,0.209],[24.8,0.187],[16.6,0.153],[32.2,0.173],[27.8,0.104],[23.2,0.074],[19.55,0.074],[18.1,0.009],[9.3,0.101],[5.2,0.091],[11,0.002],[5.6,0.04],[19.6,0.06]];
const bTriDark = [[25.4,0.577],[32.5,0.369],[31.1,0.255]];
const bRingsOnDark = [[25.4,0.579],[32.5,0.371],[31.1,0.257]];
const bHighlights = [
  { value: [18.1, 0.181], itemStyle: { color: COLORS.pink } },
  { value: [14.2, 0.393], itemStyle: { color: COLORS.green } },
  { value: [4.2, 0.033], itemStyle: { color: COLORS.blue } },
  { value: [9.4, 0.022], itemStyle: { color: COLORS.pink } },
  { value: [11, 0.042], itemStyle: { color: COLORS.pink } },
  { value: [10, 0.008], itemStyle: { color: COLORS.exonic } },
  { value: [13.2, 0.018], itemStyle: { color: COLORS.blue } },
];
const bLabels = [["XYLT1",29.2,0.586],["AFF2",37.5,0.369],["FMR1",37.5,0.25],["ZNF713",12.95,0.405],["TMEM185A",19.8,0.193],["LINGO3",6.3,0.058],["FRA10AC1",17.6,0.056],["DIP2B",17.6,0.034],["AFF3",6.7,0.024],["C11orf80",12.3,0.03]];

const legendCols = [
  { left: 206, items: [["Downstream", COLORS.downstream], ["Exonic", COLORS.exonic]] },
  { left: 342, items: [["Intergenic", COLORS.olive], ["Intronic", COLORS.green]] },
  { left: 456, items: [["ncRNA", COLORS.teal], ["Upstream", COLORS.blue]] },
  { left: 566, items: [["Intergenic", COLORS.purple], ["Intronic", COLORS.pink]] },
];

function dots(name: string, data: any, color: string, axis: number) {
  return { type: "scatter", name, data, xAxisIndex: axis, yAxisIndex: axis, symbol: "circle", symbolSize: 5, itemStyle: { color, opacity: 1 }, silent: true, z: 2 };
}
function tris(name: string, data: any, color: string) {
  return { type: "scatter", name, data, xAxisIndex: 1, yAxisIndex: 1, symbol: "triangle", symbolRotate: 180, symbolSize: 10, itemStyle: { color, borderColor: "#E2362F", borderWidth: 1, opacity: 1 }, silent: true, z: 3 };
}
function rings(name: string, data: any, axis: number, size: number) {
  return { type: "scatter", name, data, xAxisIndex: axis, yAxisIndex: axis, symbol: "circle", symbolSize: size, itemStyle: { borderColor: "#1a1a1a", borderWidth: 1, opacity: 1 }, silent: true, z: 4 };
}
function labels(name: string, rows: any[], axis: number, size: number) {
  return {
    type: "scatter", name, xAxisIndex: axis, yAxisIndex: axis, symbolSize: 0, silent: true, z: 6,
    itemStyle: { opacity: 1 },
    data: rows.map((r) => ({ value: [r[1], r[2]], name: r[0] })),
    label: { show: true, position: "inside", formatter: "{b}", color: "#000", opacity: 1, fontFamily: "Liberation Sans", fontStyle: "italic", fontWeight: "bold", fontSize: size },
  };
}
function xAxis(gridIndex: number, min: number, max: number, nameOpts: any) {
  return {
    type: "value", gridIndex, min, max, ...nameOpts,
    splitLine: { show: false },
    axisLine: { onZero: false, lineStyle: { color: "#111", width: 2 } },
    axisTick: { length: 3, lineStyle: { color: "#333" }, customValues: xTicks },
    axisLabel: { customValues: xTicks, color: "#333", fontFamily: "Liberation Sans", fontSize: 12, margin: 6 },
  };
}

export default function App() {
  const ref = useRef<HTMLDivElement>(null);
  useEffect(() => {
    document.body.style.margin = "0";
    const chart = echarts.init(ref.current!, undefined, { renderer: "svg" });
    chart.setOption({
      animation: false,
      backgroundColor: "#fff",
      grid: [
        { left: 114, top: 78, width: 583, height: 554, outerBoundsMode: "none" },
        { left: 115, top: 665, width: 577, height: 553, outerBoundsMode: "none" },
      ],
      xAxis: [
        xAxis(0, -2.45, 52.55, {}),
        xAxis(1, -2.476, 52.476, {
          name: "Mean Parental Repeat Length", nameLocation: "center", nameGap: 36,
          nameTextStyle: { fontFamily: "Lato", fontSize: 23, color: "#222" },
        }),
      ],
      yAxis: [
        {
          type: "value", gridIndex: 0, min: -1.925, max: 41.97, splitLine: { show: false },
          name: "Mean Deviation Size\n(CGG Units)", nameLocation: "center", nameGap: 48, nameRotate: 90,
          nameTextStyle: { fontFamily: "Lato", fontSize: 24, color: "#222", lineHeight: 27 },
          axisLine: { onZero: false, lineStyle: { color: "#111", width: 2 } },
          axisTick: { length: 3, lineStyle: { color: "#333" }, customValues: yTicksA },
          axisLabel: { customValues: yTicksA, color: "#333", fontFamily: "Liberation Sans", fontSize: 13, margin: 5 },
        },
        {
          type: "value", gridIndex: 1, min: -0.0497, max: 1.0487, splitLine: { show: false },
          name: "Deviation Rate\n(Change per gamete per generation)", nameLocation: "center", nameGap: 64, nameRotate: 90,
          nameTextStyle: { fontFamily: "Lato", fontSize: 23, color: "#222", lineHeight: 29 },
          axisLine: { onZero: false, lineStyle: { color: "#111", width: 2 } },
          axisTick: { length: 3, lineStyle: { color: "#333" }, customValues: yTicksB },
          axisLabel: {
            customValues: yTicksB, color: "#333", fontFamily: "Liberation Sans", fontSize: 14, margin: 4,
            formatter: (v: number) => yTickLabelsB[Math.round(v * 10)],
          },
        },
      ],
      legend: legendCols.map((c) => ({
        left: c.left, top: 1, padding: 0, orient: "vertical", itemWidth: 18, itemHeight: 18, itemGap: 12, icon: "circle", selectedMode: false,
        textStyle: { fontFamily: "Lato", fontSize: 19, color: "#222" },
        data: c.items.map(([name, color]) => ({ name, itemStyle: { color, borderColor: "#555", borderWidth: 1 } })),
      })),
      graphic: [
        { type: "text", left: 8, top: 4, style: { text: "A", font: "bold 25px 'Liberation Sans'", fill: "#111" } },
        { type: "text", left: 3, top: 621, style: { text: "B", font: "bold 25px 'Liberation Sans'", fill: "#111" } },
        { type: "text", left: 108, top: 9, style: { text: "Region", font: "28px Lato", fill: "#111" } },
      ],
      series: [
        dots("Intronic", aGreen, COLORS.green, 0),
        dots("Upstream", aBlue, COLORS.blue, 0),
        dots("ncRNA", aTeal, COLORS.teal, 0),
        dots("Intergenic", aOlive, COLORS.olive, 0),
        dots("Downstream", aDownstream, COLORS.downstream, 0),
        dots("Intergenic", aPurple, COLORS.purple, 0),
        dots("Exonic", aExonic, COLORS.exonic, 0),
        dots("Intronic", aPink, COLORS.pink, 0),
        dots("Intronic", aGreen2, COLORS.green, 0),
        dots("Upstream", aBlue2, COLORS.blue, 0),
        dots("Intergenic", aOlive2, COLORS.olive, 0),
        dots("ncRNA", aTeal2, COLORS.teal, 0),
        dots("Exonic", aExonic2, COLORS.exonic, 0),
        dots("Intronic", aPink2, COLORS.pink, 0),
        dots("Upstream", aBlue3, COLORS.blue, 0),
        dots("Intronic", aGreen3, COLORS.green, 0),
        dots("Intergenic", aOlive3, COLORS.olive, 0),
        dots("Intronic", aPink3, COLORS.pink, 0),
        dots("Exonic", aExonic3, COLORS.exonic, 0),
        rings("Marked genes A", aHighlights, 0, 8),
        labels("Gene names A", aLabels, 0, 10),
        dots("Intronic", bGreen, COLORS.green, 1),
        dots("ncRNA", bTeal, COLORS.teal, 1),
        dots("Intergenic", bOlive, COLORS.olive, 1),
        dots("Upstream", bBlue, COLORS.blue, 1),
        dots("Downstream", bDownstream, COLORS.downstream, 1),
        dots("Intergenic", bPurple, COLORS.purple, 1),
        dots("Intronic", bPink, COLORS.pink, 1),
        dots("Exonic", bExonic, COLORS.exonic, 1),
        dots("Upstream", bBlue2, COLORS.blue, 1),
        dots("Intergenic", bOlive2, COLORS.olive, 1),
        dots("Intronic", bPink2, COLORS.pink, 1),
        dots("Exonic", bExonic2, COLORS.exonic, 1),
        tris("Intronic", bTriPink, "#FF61A8"),
        tris("Intronic", bTriGreen, "#1FA65F"),
        tris("Upstream", bTriBlue, "#2A9BE0"),
        tris("Intergenic", bTriPurple, COLORS.purple),
        tris("Exonic", bTriExonic, "#E0801A"),
        tris("Intronic", bTriDark, "#C9257E"),
        rings("Marked genes B", bRingsOnDark.map((value) => ({ value, itemStyle: { color: "#F48FD0" } })), 1, 5),
        rings("Marked genes B", bHighlights, 1, 5),
        labels("Gene names B", bLabels, 1, 12),
      ],
    });
    return () => chart.dispose();
  }, []);
  return <div ref={ref} style={{ width: 699, height: 1280 }} />;
}
